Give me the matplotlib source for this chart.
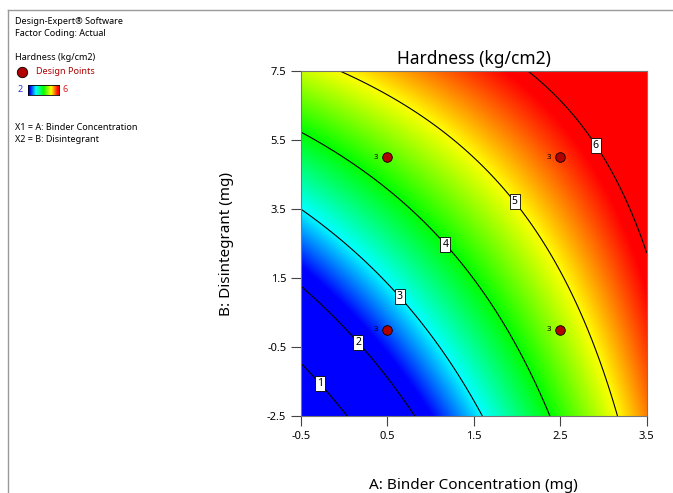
import numpy as np
import matplotlib.pyplot as plt
from matplotlib.colors import LinearSegmentedColormap
from matplotlib.lines import Line2D

plt.rcParams['font.family'] = ['Noto Sans', 'DejaVu Sans']

# fitted model in actual factors: Hardness = b0 + bA*A + bB*B + bAB*A*B
coef_names = ['b0', 'bA', 'bB', 'bAB']
coef_values = [1.97, 1.075, 0.407, -0.082]

# design points (A, B) and replicate counts
pts_A = [0.5, 2.5, 0.5, 2.5]
pts_B = [5.0, 5.0, 0.0, 0.0]
pts_n = [3, 3, 3, 3]

levels = [1, 2, 3, 4, 5, 6]
label_pos = [(-0.25, -1.49), (0.2, -0.30), (0.68, 1.04), (1.2, 2.54), (2.0, 3.76), (2.93, 5.38)]

x_ticks = [-0.5, 0.5, 1.5, 2.5, 3.5]
y_ticks = [-2.5, -0.5, 1.5, 3.5, 5.5, 7.5]

b0, bA, bB, bAB = coef_values
A, B = np.meshgrid(np.linspace(-0.5, 3.5, 400), np.linspace(-2.5, 7.5, 400))
Z = b0 + bA*A + bB*B + bAB*A*B

cmap = LinearSegmentedColormap.from_list('de', [(0, '#0000ff'), (0.06, '#0000ff'), (0.25, '#00ffff'),
                                                (0.5, '#00ff00'), (0.75, '#ffff00'), (0.97, '#ff0000'), (1, '#ff0000')])

fig = plt.figure(figsize=(6.73, 4.93), dpi=100)
ax = fig.add_axes([0.447, 0.156, 0.514, 0.700])
ax.imshow(Z, extent=[-0.5, 3.5, -2.5, 7.5], origin='lower', aspect='auto', cmap=cmap, vmin=2, vmax=6, interpolation='bilinear')
cs = ax.contour(A, B, Z, levels=levels, colors='black', linewidths=0.8)
lbls = ax.clabel(cs, fmt='%d', manual=label_pos, inline=True, inline_spacing=3, fontsize=7.5)
for t in lbls:
    t.set_bbox(dict(facecolor='white', edgecolor='black', linewidth=0.6, pad=1.4))
    t.set_rotation(0)

ax.scatter(pts_A, pts_B, s=48, color='#b00000', edgecolor='black', linewidth=0.6, zorder=5)
for a, b, n in zip(pts_A, pts_B, pts_n):
    ax.annotate(str(n), (a, b), xytext=(-7, 0), textcoords='offset points', fontsize=5.5, ha='right', va='center')

ax.set_xlim(-0.5, 3.5)
ax.set_ylim(-2.5, 7.5)
ax.set_xticks(x_ticks)
ax.set_yticks(y_ticks)
ax.set_xticklabels([str(v) for v in x_ticks])
ax.set_yticklabels([str(v) for v in y_ticks])
ax.tick_params(direction='out', length=7, width=0.8, labelsize=8, color='#444444')
for s in ax.spines.values():
    s.set_color('#777777')
    s.set_linewidth(0.8)
ax.set_title('Hardness (kg/cm2)', fontsize=12.5, pad=5)
ax.set_xlabel('A: Binder Concentration (mg)', fontsize=11, labelpad=26)
ax.set_ylabel('B: Disintegrant (mg)', fontsize=11, labelpad=24)

# side legend text
fig.text(15/673, 1-22/493, 'Design-Expert® Software', fontsize=6.5, fontweight='bold', va='center')
fig.text(15/673, 1-33/493, 'Factor Coding: Actual', fontsize=6.5, va='center')
fig.text(15/673, 1-57/493, 'Hardness (kg/cm2)', fontsize=6.5, fontweight='bold', va='center')
fig.add_artist(Line2D([22/673], [1-72/493], marker='o', markersize=7.5, color='#b00000', markeredgecolor='black', markeredgewidth=0.6))
fig.text(36/673, 1-72/493, 'Design Points', fontsize=6.5, color='#b00000', va='center')
fig.text(20/673, 1-90/493, '2', fontsize=6.5, color='#3333cc', va='center', ha='center')
fig.text(65/673, 1-90/493, '6', fontsize=6.5, color='#dd2222', va='center', ha='center')
cax = fig.add_axes([28/673, 1-95/493, 31/673, 10/493])
cax.imshow(np.linspace(2, 6, 100)[None, :], cmap=cmap, aspect='auto', vmin=2, vmax=6)
cax.set_xticks([])
cax.set_yticks([])
for s in cax.spines.values():
    s.set_linewidth(0.6)
fig.text(15/673, 1-128/493, 'X1 = A: Binder Concentration', fontsize=6.5, va='center')
fig.text(15/673, 1-139/493, 'X2 = B: Disintegrant', fontsize=6.5, va='center')

# frame lines
fig.add_artist(Line2D([8/673, 1], [1-10/493, 1-10/493], color='#999999', linewidth=1))
fig.add_artist(Line2D([8/673, 8/673], [0, 1-10/493], color='#999999', linewidth=1))

fig.savefig('out.png', dpi=100)
